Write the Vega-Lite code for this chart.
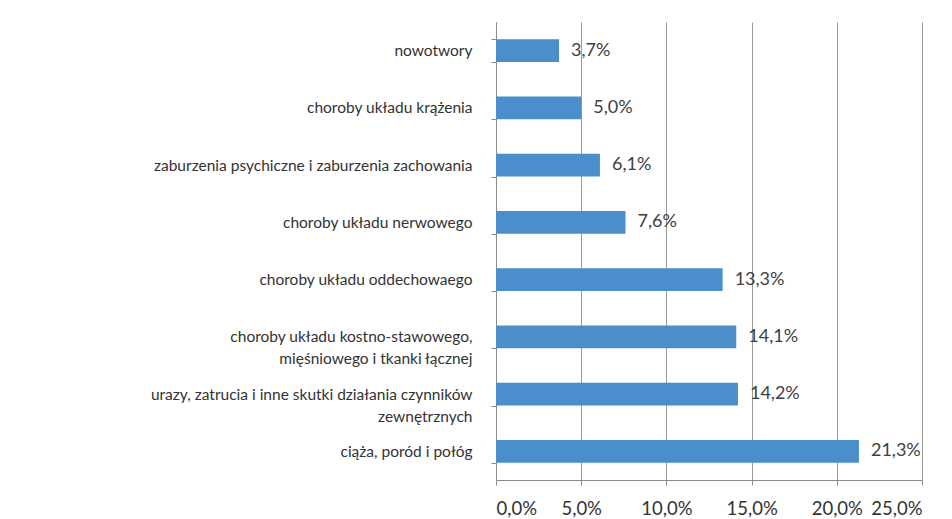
{
  "$schema": "https://vega.github.io/schema/vega-lite/v6.json",
  "width": 426,
  "height": 458,
  "autosize": {"type": "none"},
  "padding": {"left": 496, "top": 22, "right": 30, "bottom": 39},
  "background": "white",
  "config": {
    "view": {"stroke": null},
    "font": "Lato",
    "locale": {"number": {"decimal": ",", "thousands": " ", "grouping": [3], "currency": ["", " zł"]}}
  },
  "data": {
    "values": [
      {"kategoria": "nowotwory", "wartosc": 0.037},
      {"kategoria": "choroby układu krążenia", "wartosc": 0.050},
      {"kategoria": "zaburzenia psychiczne i zaburzenia zachowania", "wartosc": 0.061},
      {"kategoria": "choroby układu nerwowego", "wartosc": 0.076},
      {"kategoria": "choroby układu oddechowaego", "wartosc": 0.133},
      {"kategoria": "choroby układu kostno-stawowego,|mięśniowego i tkanki łącznej", "wartosc": 0.141},
      {"kategoria": "urazy, zatrucia i inne skutki działania czynników|zewnętrznych", "wartosc": 0.142},
      {"kategoria": "ciąża, poród i połóg", "wartosc": 0.213}
    ]
  },
  "encoding": {
    "y": {
      "field": "kategoria",
      "type": "nominal",
      "sort": null,
      "scale": {"paddingInner": 0.6, "paddingOuter": 0.3},
      "axis": {
        "title": null,
        "labelExpr": "split(datum.label, '|')",
        "labelFontSize": 15.5,
        "labelColor": "#333333",
        "labelPadding": 19,
        "labelLimit": 420,
        "labelLineHeight": 22,
        "tickBand": "extent",
        "ticks": true,
        "tickSize": 5,
        "tickColor": "#8c8c8c",
        "domainColor": "#8c8c8c",
        "grid": false
      }
    },
    "x": {
      "field": "wartosc",
      "type": "quantitative",
      "scale": {"domain": [0, 0.25], "nice": false},
      "axis": {
        "title": null,
        "values": [0, 0.05, 0.1, 0.15, 0.2, 0.25],
        "format": ".1%",
        "labelFontSize": 18.5,
        "labelColor": "#333333",
        "labelPadding": 14,
        "tickSize": 5,
        "tickColor": "#8c8c8c",
        "domainColor": "#8c8c8c",
        "grid": true,
        "gridColor": "#9a9a9a",
        "gridWidth": 1
      }
    }
  },
  "layer": [
    {"mark": {"type": "bar", "color": "#4a8fcb"}},
    {
      "mark": {"type": "text", "align": "left", "dx": 12, "fontSize": 18, "color": "#404040", "baseline": "middle"},
      "encoding": {
        "text": {"field": "wartosc", "type": "quantitative", "format": ".1%"}
      }
    }
  ]
}
